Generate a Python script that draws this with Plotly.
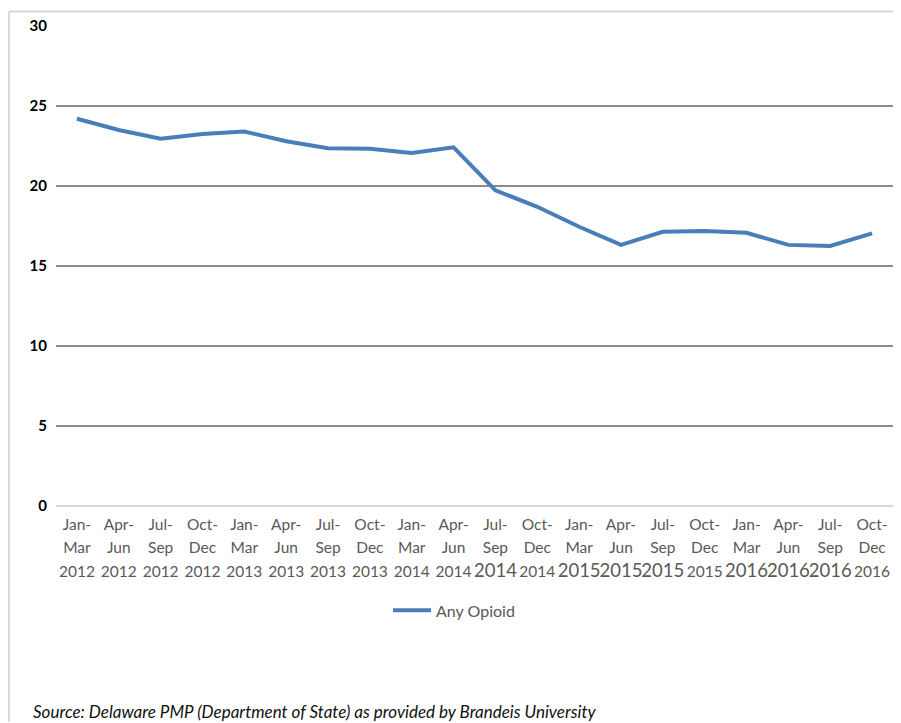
import plotly.graph_objects as go

quarters = ["Jan-<br>Mar", "Apr-<br>Jun", "Jul-<br>Sep", "Oct-<br>Dec"]
years = ["2012", "2013", "2014", "2015", "2016"]
categories = ["Jan-Mar 2012", "Apr-Jun 2012", "Jul-Sep 2012", "Oct-Dec 2012",
              "Jan-Mar 2013", "Apr-Jun 2013", "Jul-Sep 2013", "Oct-Dec 2013",
              "Jan-Mar 2014", "Apr-Jun 2014", "Jul-Sep 2014", "Oct-Dec 2014",
              "Jan-Mar 2015", "Apr-Jun 2015", "Jul-Sep 2015", "Oct-Dec 2015",
              "Jan-Mar 2016", "Apr-Jun 2016", "Jul-Sep 2016", "Oct-Dec 2016"]
# labels whose year is rendered larger in the reference
big_year = {"Jul-Sep 2014", "Jan-Mar 2015", "Apr-Jun 2015", "Jul-Sep 2015",
            "Jan-Mar 2016", "Apr-Jun 2016", "Jul-Sep 2016"}
any_opioid = [24.2, 23.5, 22.95, 23.25, 23.4, 22.8, 22.36, 22.33, 22.07, 22.42,
              19.73, 18.7, 17.45, 16.32, 17.14, 17.18, 17.08, 16.32, 16.25, 17.04]
y_ticks = [0, 5, 10, 15, 20, 25, 30]

FONT = "Lato, 'Open Sans', sans-serif"


def make_label(cat):
    q, y = cat.split(" ")
    a, b = q.split("-")
    s = "<span style='font-size:15.5px'>"
    yr = ("<span style='font-size:18.5px'>" + y + "</span>") if cat in big_year else (s + y + "</span>")
    return s + a + "-</span><br>" + s + b + "</span><br>" + yr


tick_labels = [make_label(c) for c in categories]

fig = go.Figure()
fig.add_trace(go.Scatter(
    x=categories, y=any_opioid, mode="lines", name="Any Opioid",
    line=dict(color="#4A7EBB", width=4),
))

fig.update_layout(
    width=893, height=715,
    margin=dict(l=48, r=8, t=15, b=217),
    paper_bgcolor="white", plot_bgcolor="white",
    font=dict(family=FONT),
    showlegend=True,
    legend=dict(orientation="h", x=0.3967, xanchor="left", y=-0.2174, yanchor="middle",
                font=dict(size=16, color="#595959", family=FONT),
                itemwidth=38, bgcolor="rgba(0,0,0,0)"),
    xaxis=dict(type="category", range=[-0.5, 19.5], tickmode="array",
               tickvals=categories, ticktext=tick_labels, tickangle=0,
               showgrid=False, showline=False, zeroline=False,
               tickfont=dict(size=18, color="#595959", family=FONT),
               ticks="", ticklabelstandoff=5),
    yaxis=dict(range=[0, 30], tickmode="array", tickvals=y_ticks,
               showgrid=True, gridcolor="#8C8C8C", gridwidth=1.5,
               zeroline=True, zerolinecolor="#D9D9D9", zerolinewidth=1.5,
               showline=False, ticks="",
               tickfont=dict(size=15, color="#000000", family=FONT, weight="bold"),
               ticklabelstandoff=8),
    shapes=[
        dict(type="line", xref="paper", yref="paper", x0=-0.0562, x1=1.0096,
             y0=1.0300, y1=1.0300, line=dict(color="#D9D9D9", width=2)),
        dict(type="line", xref="paper", yref="paper", x0=-0.0562, x1=-0.0562,
             y0=1.0300, y1=-0.4493, line=dict(color="#D9D9D9", width=2)),
    ],
    annotations=[
        dict(text="<i>Source: Delaware PMP (Department of State) as provided by Brandeis University</i>",
             xref="paper", yref="paper", x=-0.0299, y=-0.4286, xanchor="left", yanchor="middle",
             showarrow=False, font=dict(size=17, color="#111111", family=FONT)),
    ],
)

fig.write_html("out.html")
